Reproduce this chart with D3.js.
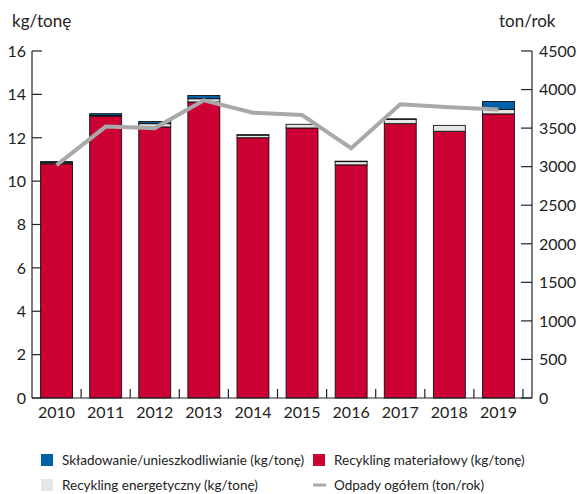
<!DOCTYPE html>
<html>
<head>
<meta charset="utf-8">
<script src="https://cdn.jsdelivr.net/npm/d3@7/dist/d3.min.js"></script>
<style>
body{margin:0;background:#fff;}
text{font-family:Lato,"Open Sans",sans-serif;fill:#222;}
</style>
</head>
<body>
<div id="chart"></div>
<script>
var svgW=577,svgH=494;
var years=["2010","2011","2012","2013","2014","2015","2016","2017","2018","2019"];
var recyklingMat=[10.8,13.0,12.5,13.65,12.0,12.45,10.75,12.65,12.3,13.1];
var recyklingEn=[0.05,0.03,0.15,0.15,0.12,0.17,0.15,0.2,0.27,0.2];
var skladowanie=[0.05,0.08,0.1,0.15,0.02,0.0,0.02,0.02,0.0,0.37];
var odpady=[3020,3520,3500,3860,3700,3670,3240,3810,3770,3740];
var leftTicks=[0,2,4,6,8,10,12,14,16];
var rightTicks=[0,500,1000,1500,2000,2500,3000,3500,4000,4500];

var colRed="#cc0033",colBlue="#0060a8",colGray="#e6e6e6",colLine="#a9a9a9";

var svg=d3.select("#chart").append("svg")
    .attr("width",svgW).attr("height",svgH);

var x0=32,x1=523,xAxisEnd=532,yTop=51,yBot=398;

var x=d3.scaleBand().domain(years).range([x0,x1]).paddingInner(0.35).paddingOuter(0.175);
var yL=d3.scaleLinear().domain([0,16]).range([yBot,yTop]);
var yR=d3.scaleLinear().domain([0,4500]).range([yBot,yTop]);

// stacked data
var rows=years.map(function(y,i){
    return {year:y,mat:recyklingMat[i],en:recyklingEn[i],skl:skladowanie[i]};
});
var stack=d3.stack().keys(["mat","en","skl"])(rows);
var colors={mat:colRed,en:colGray,skl:colBlue};

var barsG=svg.append("g");
stack.forEach(function(layer){
    barsG.selectAll(null).data(layer).enter().append("rect")
        .attr("x",function(d){return x(d.data.year);})
        .attr("width",x.bandwidth())
        .attr("y",function(d){return yL(d[1]);})
        .attr("height",function(d){return Math.max(0,yL(d[0])-yL(d[1]));})
        .attr("fill",colors[layer.key])
        .attr("stroke","#111")
        .attr("stroke-width",0.9);
});

// axes lines
var axisG=svg.append("g").attr("stroke","#222").attr("stroke-width",1.2);
axisG.append("line").attr("x1",x0).attr("x2",x0).attr("y1",yTop).attr("y2",yBot);
axisG.append("line").attr("x1",xAxisEnd).attr("x2",xAxisEnd).attr("y1",yTop).attr("y2",yBot);
axisG.append("line").attr("x1",x0).attr("x2",xAxisEnd).attr("y1",yBot).attr("y2",yBot);

// left ticks
leftTicks.forEach(function(t){
    axisG.append("line").attr("x1",x0).attr("x2",x0+10).attr("y1",yL(t)).attr("y2",yL(t));
    svg.append("text").attr("x",x0-6).attr("y",yL(t)).attr("dy","0.36em")
        .attr("text-anchor","end").style("font-size","16px").text(t);
});
// right ticks
rightTicks.forEach(function(t){
    axisG.append("line").attr("x1",xAxisEnd-11).attr("x2",xAxisEnd).attr("y1",yR(t)).attr("y2",yR(t));
    svg.append("text").attr("x",xAxisEnd+7).attr("y",yR(t)).attr("dy","0.36em")
        .attr("text-anchor","start").style("font-size","16px").text(t);
});
// x ticks between categories
var step=x.step();
years.forEach(function(y,i){
    var bx=x(y)+x.bandwidth()+(step-x.bandwidth())/2;
    axisG.append("line").attr("x1",bx).attr("x2",bx).attr("y1",yBot).attr("y2",yBot-9);
    svg.append("text").attr("x",x(y)+x.bandwidth()/2).attr("y",yBot+20)
        .attr("text-anchor","middle").style("font-size","16px").text(y);
});

// line series
var line=d3.line()
    .x(function(d,i){return x(years[i])+x.bandwidth()/2;})
    .y(function(d){return yR(d);});
svg.append("path").datum(odpady)
    .attr("d",line)
    .attr("fill","none")
    .attr("stroke",colLine)
    .attr("stroke-width",4);

// axis titles
svg.append("text").attr("x",12).attr("y",27).style("font-size","17px").text("kg/tonę");
svg.append("text").attr("x",499).attr("y",27).style("font-size","17px").text("ton/rok");

// legend
var legend=[
    {label:"Składowanie/unieszkodliwianie (kg/tonę)",color:colBlue,type:"rect",x:41,y:460},
    {label:"Recykling materiałowy (kg/tonę)",color:colRed,type:"rect",x:313,y:460},
    {label:"Recykling energetyczny (kg/tonę)",color:colGray,type:"rect",x:41,y:485},
    {label:"Odpady ogółem (ton/rok)",color:colLine,type:"line",x:313,y:485}
];
var lg=svg.append("g");
legend.forEach(function(l){
    if(l.type=="rect"){
        lg.append("rect").attr("x",l.x).attr("y",l.y-6).attr("width",12).attr("height",12).attr("fill",l.color);
    }else{
        lg.append("line").attr("x1",l.x).attr("x2",l.x+13).attr("y1",l.y).attr("y2",l.y)
            .attr("stroke",l.color).attr("stroke-width",3);
    }
    lg.append("text").attr("x",l.x+21).attr("y",l.y).attr("dy","0.34em")
        .style("font-size","13.5px").text(l.label);
});
</script>
</body>
</html>
